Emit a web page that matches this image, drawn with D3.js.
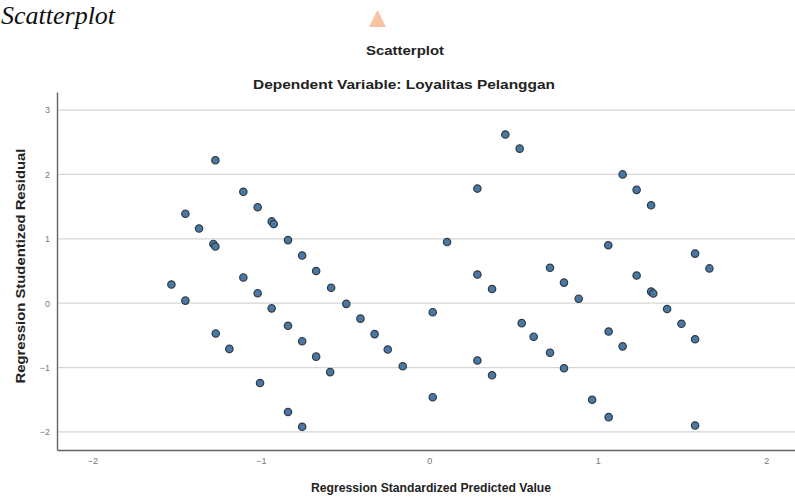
<!DOCTYPE html>
<html><head><meta charset="utf-8">
<script src="https://cdn.jsdelivr.net/npm/d3@7"></script>
<style>body{margin:0;background:#fff;overflow:hidden}svg{display:block}</style>
</head><body>
<svg id="c" width="795" height="499"></svg>
<script>
const predicted = [-1.531,-1.448,-1.448,-1.367,-1.282,-1.270,-1.270,-1.268,-1.187,-1.104,-1.104,-1.019,-1.019,-1.005,-0.936,-0.924,-0.936,-0.839,-0.839,-0.839,-0.755,-0.755,-0.755,-0.672,-0.672,-0.583,-0.589,-0.493,-0.409,-0.325,-0.247,-0.158,0.020,0.020,0.105,0.285,0.285,0.285,0.372,0.372,0.451,0.536,0.548,0.619,0.716,0.716,0.799,0.799,0.886,0.966,1.062,1.064,1.064,1.147,1.147,1.230,1.230,1.316,1.316,1.329,1.411,1.496,1.577,1.577,1.577,1.662];
const residual = [0.29,1.39,0.04,1.16,0.92,0.88,2.22,-0.47,-0.71,1.73,0.40,1.49,0.155,-1.24,1.27,1.23,-0.08,0.98,-0.35,-1.69,0.74,-0.59,-1.92,0.50,-0.83,0.24,-1.07,-0.01,-0.24,-0.48,-0.72,-0.98,-0.14,-1.46,0.95,1.78,0.445,-0.89,0.22,-1.12,2.62,2.40,-0.31,-0.52,0.55,-0.77,0.32,-1.01,0.07,-1.50,0.90,-0.44,-1.77,2.00,-0.67,1.76,0.43,1.52,0.18,0.15,-0.09,-0.32,0.77,-0.56,-1.90,0.54];
const xTicks = [-2,-1,0,1,2];
const yTicks = [-2,-1,0,1,2,3];
const titleText = "Scatterplot";
const subtitleText = "Dependent Variable: Loyalitas Pelanggan";
const xLabel = "Regression Standardized Predicted Value";
const yLabel = "Regression Studentized Residual";
const captionText = "Scatterplot";

const svg = d3.select("#c");
const x = d3.scaleLinear().domain([-2.21, 2.17]).range([57, 795]);
const y = d3.scaleLinear().domain([-2.28, 3.28]).range([450, 92]);
const sans = "Liberation Sans, Arial, sans-serif";

// caption top-left
svg.append("text").attr("x", 1).attr("y", 24)
  .attr("font-family", "Liberation Serif, Times New Roman, serif")
  .attr("font-style", "italic").attr("font-size", 26).attr("fill", "#111")
  .text(captionText);
// peach triangle
svg.append("path").attr("d", "M369,27 L377.5,10 L386,27 Z").attr("fill", "#f7c4a3");

// gridlines
svg.append("g").selectAll("line").data(yTicks).join("line")
  .attr("x1", 58).attr("x2", 795)
  .attr("y1", d => y(d)).attr("y2", d => y(d))
  .attr("stroke", "#d6d6d6").attr("stroke-width", 1.3);

// axes
const xAxis = svg.append("g").attr("transform", `translate(0,${y.range()[0]})`)
  .call(d3.axisBottom(x).tickValues(xTicks).tickSize(0).tickPadding(8).tickFormat(d3.format("d")));
xAxis.select(".domain").attr("stroke", "#666").attr("stroke-width", 1.4);
xAxis.selectAll("text").attr("font-family", sans).attr("font-size", 9).attr("fill", "#777");

const yAxis = svg.append("g").attr("transform", `translate(${x.range()[0]},0)`)
  .call(d3.axisLeft(y).tickValues(yTicks).tickSize(0).tickPadding(7).tickFormat(d3.format("d")));
yAxis.select(".domain").attr("stroke", "#666").attr("stroke-width", 1.4);
yAxis.selectAll("text").attr("font-family", sans).attr("font-size", 9).attr("fill", "#777");

// points
svg.append("g").selectAll("circle").data(predicted.map((p, i) => [p, residual[i]])).join("circle")
  .attr("cx", d => x(d[0])).attr("cy", d => y(d[1])).attr("r", 3.7)
  .attr("fill", "#4a78a2").attr("stroke", "#2f3b48").attr("stroke-width", 1.2);

// titles
svg.append("text").attr("x", 405).attr("y", 55).attr("text-anchor", "middle")
  .attr("font-family", sans).attr("font-size", 12.5).attr("font-weight", "bold").attr("fill", "#222")
  .attr("textLength", 78).attr("lengthAdjust", "spacingAndGlyphs")
  .text(titleText);
svg.append("text").attr("x", 404).attr("y", 89).attr("text-anchor", "middle")
  .attr("font-family", sans).attr("font-size", 13).attr("font-weight", "bold").attr("fill", "#222")
  .attr("textLength", 302).attr("lengthAdjust", "spacingAndGlyphs")
  .text(subtitleText);
svg.append("text").attr("x", 431).attr("y", 492).attr("text-anchor", "middle")
  .attr("font-family", sans).attr("font-size", 12.5).attr("font-weight", "bold").attr("fill", "#222")
  .attr("textLength", 240).attr("lengthAdjust", "spacingAndGlyphs")
  .text(xLabel);
svg.append("text").attr("transform", "translate(25,266) rotate(-90)").attr("text-anchor", "middle")
  .attr("font-family", sans).attr("font-size", 12.5).attr("font-weight", "bold").attr("fill", "#222")
  .attr("textLength", 235).attr("lengthAdjust", "spacingAndGlyphs")
  .text(yLabel);
</script>
</body></html>
